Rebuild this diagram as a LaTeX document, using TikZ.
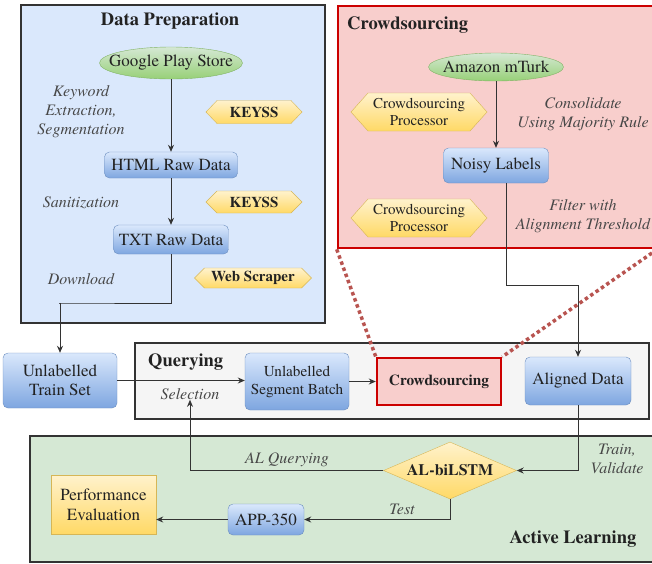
\documentclass[tikz,border=0pt]{standalone}
\usepackage{fontspec}
\setmainfont{texgyretermes}[Extension=.otf, UprightFont=*-regular, BoldFont=*-bold, ItalicFont=*-italic, BoldItalicFont=*-bolditalic]
\usetikzlibrary{arrows.meta,shapes.geometric}
\definecolor{dpfill}{HTML}{DAE8FC}
\definecolor{csfill}{HTML}{F8CECC}
\definecolor{csred}{HTML}{CC0000}
\definecolor{qfill}{HTML}{F5F5F5}
\definecolor{alfill}{HTML}{D5E8D4}
\definecolor{frame}{HTML}{333333}
\definecolor{bluetop}{HTML}{DAE8FC}
\definecolor{bluebot}{HTML}{7EA6E0}
\definecolor{blueline}{HTML}{6C8EBF}
\definecolor{yeltop}{HTML}{FFF2CC}
\definecolor{yelbot}{HTML}{FFD966}
\definecolor{yelline}{HTML}{D6B656}
\definecolor{grntop}{HTML}{D5E8D4}
\definecolor{grnbot}{HTML}{97D077}
\definecolor{grnline}{HTML}{82B366}
\definecolor{dotred}{HTML}{B85450}
\definecolor{txt}{HTML}{222222}
\tikzset{
  container/.style={draw=frame, line width=1.8pt, minimum width=#1},
  bluebox/.style={rounded corners=5pt, draw=blueline, top color=bluetop, bottom color=bluebot,
    align=center, inner sep=0pt, font=\fontsize{17}{19}\selectfont, text=txt},
  hexsty/.style={draw=yelline, top color=yeltop, bottom color=yelbot},
  hextext/.style={align=center, inner sep=0pt, font=\fontsize{15}{17}\selectfont, text=txt},
  grnell/.style={ellipse, draw=grnline, top color=grntop, bottom color=grnbot,
    inner xsep=-20pt, inner ysep=0pt, font=\fontsize{17}{19}\selectfont, text=txt},
  lbl/.style={align=center, font=\fontsize{16}{19}\itshape, text=frame!90, inner sep=0pt},
  ttl/.style={font=\fontsize{18.5}{20}\bfseries, text=txt, inner sep=0pt},
  conn/.style={draw=frame, line width=0.9pt},
  arr/.style={conn, -{Stealth[length=7pt,width=6pt]}},
  dotln/.style={draw=dotred, line width=3.5pt, dash pattern=on 3.5pt off 3pt}
}
% hexagon: name, x, y, width, height, point, text
\newcommand\hexat[7]{%
  \path[hexsty] (#2-#4/2,#3) -- (#2-#4/2+#6,#3-#5/2) -- (#2+#4/2-#6,#3-#5/2) -- (#2+#4/2,#3)
     -- (#2+#4/2-#6,#3+#5/2) -- (#2-#4/2+#6,#3+#5/2) -- cycle;
  \node (#1) [hextext, minimum width=#4pt, minimum height=#5pt] at (#2,#3) {#7};}
\begin{document}
\begin{tikzpicture}[x=1pt,y=-1pt]
\useasboundingbox (0,0) rectangle (652,563);
\clip (0,0) rectangle (652,563);
% containers
\node (dp) [container=304pt, minimum height=318pt, fill=dpfill] at (173,164) {};
\node (cs) [draw=csred, line width=2.6pt, fill=csfill, minimum width=318pt, minimum height=242pt] at (497,127) {};
\node (qb) [container=514pt, minimum height=76pt, fill=qfill] at (392,381) {};
\node (al) [container=626pt, minimum height=126pt, fill=alfill] at (343,499) {};
% titles
\node (dpt) [ttl, anchor=base] at (170,25) {Data Preparation};
\node (cst) [ttl, anchor=base west] at (347,29) {Crowdsourcing};
\node (qt) [ttl, anchor=base west] at (148,366) {Querying};
\node (alt) [ttl, anchor=base] at (573,543) {Active Learning};
% data preparation
\node (gps) [grnell, minimum width=143pt, minimum height=32pt] at (171,63) {Google Play Store};
\node (html) [bluebox, minimum width=133pt, minimum height=26pt] at (171,165) {HTML Raw Data};
\node (txtraw) [bluebox, minimum width=115pt, minimum height=29pt] at (171,239.5) {TXT Raw Data};
\hexat{key1}{254}{112}{96}{23}{11}{\bfseries KEYSS}
\hexat{key2}{254}{202}{96}{22}{11}{\bfseries KEYSS}
\hexat{web}{253}{278}{117}{20}{10}{\bfseries Web Scraper}
\node (kw) [lbl] at (81,112) {Keyword\\Extraction,\\Segmentation};
\node (san) [lbl] at (81,203) {Sanitization};
\node (dl) [lbl] at (81,279) {Download};
% crowdsourcing
\node (mturk) [grnell, minimum width=135pt, minimum height=28pt] at (496,67) {Amazon mTurk};
\node (noisy) [bluebox, minimum width=105pt, minimum height=35pt] at (496,165.5) {Noisy Labels};
\hexat{proc1}{419}{112}{136}{38}{17}{Crowdsourcing\\Processor}
\hexat{proc2}{419}{218}{136}{38}{17}{Crowdsourcing\\Processor}
\node (cons) [lbl] at (583,114) {Consolidate\\Using Majority Rule};
\node (filt) [lbl] at (583,216) {Filter with\\Alignment Threshold};
% querying
\node (train) [bluebox, minimum width=114pt, minimum height=55pt] at (60,380.5) {Unlabelled\\Train Set};
\node (seg) [bluebox, minimum width=104pt, minimum height=57pt, font=\fontsize{15.2}{18}\selectfont] at (297,381.5) {Unlabelled\\Segment Batch};
\node (csmall) [draw=csred, line width=2.4pt, fill=csfill, minimum width=124pt, minimum height=47pt,
   font=\fontsize{15.3}{17}\bfseries, text=txt, inner sep=0pt] at (439,381.5) {Crowdsourcing};
\node (aligned) [bluebox, minimum width=106pt, minimum height=48pt] at (578,381) {Aligned Data};
\node (sel) [lbl] at (190,394) {Selection};
% active learning
\node (lstm) [diamond, aspect=2.33, draw=yelline, top color=yeltop, bottom color=yelbot,
   minimum width=133pt, minimum height=57pt, inner sep=0pt, font=\fontsize{16}{18}\bfseries, text=txt] at (450,470.5) {AL-biLSTM};
\node (app) [bluebox, minimum width=76pt, minimum height=31pt] at (266,519.5) {APP-350};
\node (perf) [draw=yelline, top color=yeltop, bottom color=yelbot, minimum width=105pt, minimum height=59pt,
   align=center, inner sep=0pt, font=\fontsize{17}{20}\selectfont, text=txt] at (103.5,504.5) {Performance\\Evaluation};
\node (tv) [lbl] at (617,459) {Train,\\Validate};
\node (alq) [lbl] at (287,460) {AL Querying};
\node (test) [lbl] at (402,509) {Test};
% connectors
\draw[arr] (gps) -- (html);
\draw[arr] (html) -- (txtraw);
\draw[arr] (txtraw.south) |- (59,303) -- (59,303 -| train.north) -- (train.north);
\draw[arr] (mturk) -- (noisy);
\draw[arr] ([xshift=10pt]noisy.south) -- (506,285) -| (aligned.north);
\draw[arr] (train.east) -- (seg.west |- train.east);
\draw[arr] (seg.east |- csmall.west) -- (csmall.west);
\draw[arr] (aligned.south) |- (lstm.east);
\draw[arr] (lstm.west) -| (sel.south);
\draw[arr] (lstm.south) |- (app.east);
\draw[arr] (app.west) -- (perf.east |- app.west);
\draw[dotln] (cs.south west) -- (csmall.north west);
\draw[dotln] (cs.south east) -- (csmall.north east);
\end{tikzpicture}
\end{document}
